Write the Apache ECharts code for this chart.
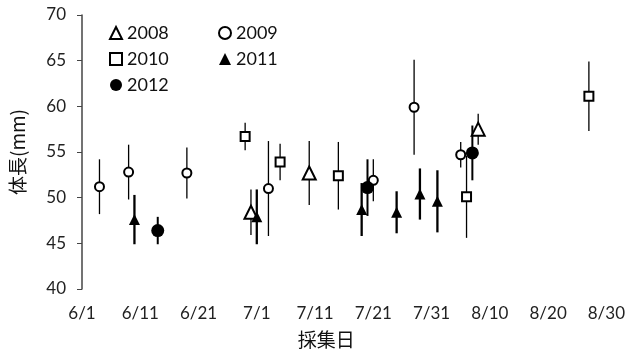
<!DOCTYPE html>
<html><head><meta charset="utf-8">
<script src="https://cdn.jsdelivr.net/npm/echarts@6/dist/echarts.min.js"></script>
<style>html,body{margin:0;padding:0;background:#fff}#c{width:628px;height:360px}</style>
</head><body><div id="c"></div>
<script>
var xTicks = ['6/1','6/11','6/21','7/1','7/11','7/21','7/31','8/10','8/20','8/30'];
var yTicks = [40,45,50,55,60,65,70];

var d2008 = ['6/30','7/10','8/8'];
var m2008 = [48.4, 52.7, 57.5];
var e2008 = [2.5, 3.5, 1.7];

var d2009 = ['6/4','6/9','6/19','7/3','7/21','7/28','8/5'];
var m2009 = [51.2, 52.8, 52.7, 51.0, 51.9, 59.9, 54.7];
var e2009 = [3.0, 3.0, 2.8, 5.2, 2.3, 5.2, 1.4];

var d2010 = ['6/29','7/5','7/15','8/6','8/27'];
var m2010 = [56.7, 53.9, 52.4, 50.1, 61.1];
var e2010 = [1.5, 2.0, 3.7, 4.5, 3.8];

var d2011 = ['6/10','7/1','7/19','7/25','7/29','8/1'];
var m2011 = [47.6, 47.9, 48.7, 48.4, 50.4, 49.6];
var e2011 = [2.7, 3.0, 2.9, 2.3, 2.8, 3.4];

var d2012 = ['6/14','7/20','8/7'];
var m2012 = [46.4, 51.1, 54.9];
var e2012 = [1.5, 3.1, 3.0];

var monthStart = {6: 0, 7: 30, 8: 61};
function dayOf(s){ var p = s.split('/'); return monthStart[+p[0]] + (+p[1]) - 1; }
function dateOf(v){ if (v >= 61) return '8/' + (v - 61 + 1); if (v >= 30) return '7/' + (v - 30 + 1); return '6/' + (v + 1); }

var font = 'Lato, "Noto Sans", sans-serif';
var cjk = '"Noto Sans CJK JP", sans-serif';

function pts(d, m){ return d.map(function(s,i){ return [dayOf(s), m[i]]; }); }
function errs(d, m, e){ return d.map(function(s,i){ return [dayOf(s), m[i]-e[i], m[i]+e[i]]; }); }

function errSeries(d, m, e, w){
  return {
    type: 'custom', silent: true, z: 1,
    data: errs(d, m, e),
    encode: {x: 0, y: [1, 2]},
    renderItem: function(params, api){
      var lo = api.coord([api.value(0), api.value(1)]);
      var hi = api.coord([api.value(0), api.value(2)]);
      return {type: 'line', shape: {x1: lo[0], y1: lo[1], x2: hi[0], y2: hi[1]},
              style: {stroke: '#000', lineWidth: w}};
    }
  };
}
function markSeries(name, d, m, symbol, size, filled){
  return {
    name: name, type: 'scatter', z: 5, data: pts(d, m),
    symbol: symbol, symbolSize: size,
    itemStyle: {color: filled ? '#000' : '#fff', borderColor: '#000', borderWidth: filled ? 0 : 2, opacity: 1}
  };
}

var chart = echarts.init(document.getElementById('c'), null, {renderer: 'canvas'});
var legendText = {fontFamily: font, fontSize: 18, color: '#111'};
chart.setOption({
  animation: false,
  backgroundColor: '#fff',
  grid: {left: 77, right: 20, top: 15, bottom: 71},
  legend: [
    {data: ['2008','2010','2012'], orient: 'vertical', left: 104, top: 19, itemWidth: 12, itemHeight: 12, itemGap: 8, textStyle: legendText},
    {data: ['2009','2011'], orient: 'vertical', left: 213, top: 19, itemWidth: 12, itemHeight: 12, itemGap: 8, textStyle: legendText}
  ],
  xAxis: {
    type: 'value', min: 0, max: 90, interval: 10,
    name: '採集日', nameLocation: 'middle', nameGap: 41,
    nameTextStyle: {fontFamily: cjk, fontSize: 19, color: '#111', padding: [0, 36, 0, 0]},
    axisLine: {show: false}, axisTick: {show: false}, splitLine: {show: false},
    axisLabel: {fontFamily: font, fontSize: 17, color: '#222', margin: 16,
      formatter: function(v){ return dateOf(v); }}
  },
  yAxis: {
    type: 'value', min: yTicks[0], max: yTicks[yTicks.length-1], interval: 5,
    name: '体長(mm)', nameLocation: 'middle', nameGap: 55,
    nameTextStyle: {fontFamily: cjk, fontSize: 19, color: '#111'},
    axisLine: {show: true, lineStyle: {color: '#444', width: 1.5}},
    axisTick: {show: true, length: 5, lineStyle: {color: '#444'}},
    splitLine: {show: false},
    axisLabel: {fontFamily: font, fontSize: 17, color: '#222', margin: 16}
  },
  series: [
    errSeries(d2008, m2008, e2008, 1.3),
    errSeries(d2009, m2009, e2009, 1.3),
    errSeries(d2010, m2010, e2010, 1.3),
    errSeries(d2011, m2011, e2011, 2.3),
    errSeries(d2012, m2012, e2012, 2),
    markSeries('2008', d2008, m2008, 'triangle', 13, false),
    markSeries('2009', d2009, m2009, 'circle', 9, false),
    markSeries('2010', d2010, m2010, 'rect', 9, false),
    markSeries('2011', d2011, m2011, 'triangle', 11, true),
    markSeries('2012', d2012, m2012, 'circle', 13, true)
  ]
});
</script></body></html>
